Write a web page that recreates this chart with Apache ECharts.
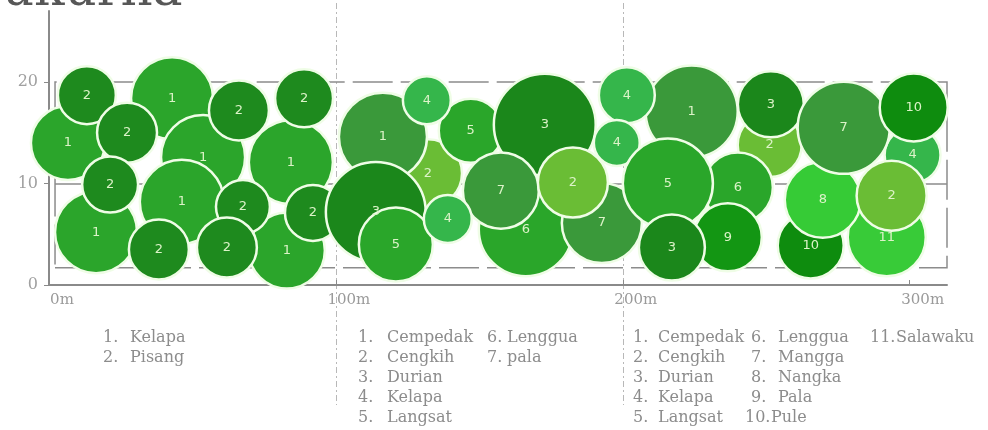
<!DOCTYPE html>
<html><head><meta charset="utf-8">
<script src="https://cdn.jsdelivr.net/npm/echarts@6/dist/echarts.min.js"></script>
<style>html,body{margin:0;padding:0;background:#fff}#c{width:988px;height:430px}</style>
</head><body><div id="c"></div>
<script>
// ---------- data ----------
const titleText = 'ukurna';
const xTicks = [0, 100, 200, 300];
const yTicks = [0, 10, 20];
const sectionMarks = [100, 200];

const seg1Species = ['Kelapa', 'Pisang'];
const seg1No    = [1, 1, 1, 1, 1, 1, 1, 2, 2, 2, 2, 2, 2, 2, 2, 2];
const seg1X     = [42.9, 6.6, 53.7, 84.3, 46.3, 16.4, 82.9, 13.2, 66.2, 88.9, 27.2, 21.3, 67.6, 92.0, 38.3, 62.0];
const seg1Y     = [18.4, 14.0, 12.6, 12.1, 8.2, 5.2, 3.4, 18.7, 17.2, 18.4, 15.0, 9.9, 7.7, 7.1, 3.5, 3.7];
const seg1Crown = [28.6, 25.8, 29.3, 29.3, 29.3, 28.6, 26.5, 20.2, 20.9, 20.2, 20.9, 19.5, 18.8, 19.5, 20.9, 20.9];

const seg2Species = ['Cempedak', 'Cengkih', 'Durian', 'Kelapa', 'Langsat', 'Lenggua', 'pala'];
const seg2No    = [2, 6, 1, 3, 5, 5, 4, 3, 7, 7, 4, 2];
const seg2X     = [132.1, 166.2, 116.4, 113.9, 120.9, 147.0, 131.7, 172.8, 157.5, 192.7, 139.0, 182.6];
const seg2Y     = [11.0, 5.5, 14.6, 7.2, 4.0, 15.2, 18.2, 15.8, 9.3, 6.1, 6.5, 10.1];
const seg2Crown = [23.7, 32.8, 30.7, 34.8, 25.8, 22.3, 16.7, 35.5, 26.5, 27.9, 16.7, 24.4];

const seg3Species = ['Cempedak', 'Cengkih', 'Durian', 'Kelapa', 'Langsat', 'Lenggua', 'Mangga', 'Nangka', 'Pala', 'Pule', 'Salawaku'];
const seg3No    = [2, 4, 1, 4, 4, 6, 5, 9, 3, 3, 10, 11, 8, 7, 10, 2];
const seg3X     = [251.2, 301.0, 224.0, 201.4, 197.9, 240.1, 215.7, 236.6, 217.1, 251.6, 265.5, 292.0, 269.7, 277.0, 301.4, 293.7];
const seg3Y     = [13.8, 12.8, 17.1, 18.7, 14.0, 9.6, 10.0, 4.7, 3.7, 17.8, 3.9, 4.7, 8.4, 15.5, 17.5, 8.8];
const seg3Crown = [22.3, 19.5, 32.1, 19.5, 16.0, 24.4, 31.4, 23.7, 23.0, 23.0, 23.0, 27.2, 26.5, 32.1, 23.7, 24.4];

// ---------- styles / layout ----------
const speciesColor = {
  Kelapa1: '#2ba52b', Pisang: '#1e8a1e',
  Cempedak: '#3a993a', Cengkih: '#6abd35', Durian: '#1b871b', Kelapa: '#35b64b',
  Langsat: '#2aa62a', Lenggua: '#2aa62a', pala: '#3a993a', Mangga: '#3a993a',
  Nangka: '#36cb36', Pala: '#139613', Pule: '#0e8c0e', Salawaku: '#38cb38'
};
const frame = { x0: 2.1, x1: 313, y0: 1.7, y1: 20, mid: 10 };
const legendLayout = [
  { species: seg1Species, cols: [{ num: 103, name: 130 }] },
  { species: seg2Species, cols: [{ num: 358, name: 387 }, { num: 487, name: 507 }] },
  { species: seg3Species, cols: [{ num: 633, name: 658 }, { num: 751, name: 778 }, { num: 876, name: 897 }] }
];
const legendRowY = [338, 358, 378, 398, 418];
const serif = 'DejaVu Serif';

const chart = echarts.init(document.getElementById('c'), null, { renderer: 'canvas' });

function colorFor(seg, species) {
  if (seg === 1 && species === 'Kelapa') return speciesColor.Kelapa1;
  return speciesColor[species];
}

function buildSeries(seg, species, nos, xs, ys, crowns, pxPerM) {
  return {
    type: 'scatter',
    name: 'seg' + seg,
    clip: false,
    silent: true,
    z: 3,
    data: xs.map((x, i) => ({
      value: [x, ys[i], crowns[i], nos[i]],
      itemStyle: { color: colorFor(seg, species[nos[i] - 1]) }
    })),
    symbol: 'circle',
    symbolSize: v => v[2] * pxPerM,
    itemStyle: { borderColor: '#effde6', borderWidth: 2.5, opacity: 1 },
    label: {
      show: true, position: 'inside',
      formatter: p => String(p.value[3]),
      color: '#dcf3c8', fontSize: 13, fontFamily: 'DejaVu Sans'
    },
    emphasis: { disabled: true }
  };
}

function makeOption(pxPerM) {
  const frameSeries = {
    type: 'line', name: 'frame', data: [], z: 1, silent: true,
    markArea: {
      silent: true, z: 1,
      itemStyle: { color: 'rgba(0,0,0,0)', borderColor: '#8c8c8c', borderWidth: 1.5, borderType: [40, 8] },
      data: [[{ coord: [frame.x0, frame.y0] }, { coord: [frame.x1, frame.y1] }]]
    },
    markLine: {
      silent: true, z: 1, symbol: 'none', label: { show: false },
      lineStyle: { color: '#8c8c8c', width: 1.5, type: [40, 8] },
      data: [[{ coord: [frame.x0, frame.mid] }, { coord: [frame.x1, frame.mid] }]]
    }
  };
  return {
    animation: false,
    backgroundColor: '#fff',
    title: {
      text: titleText, left: -3, top: -38,
      textStyle: { fontFamily: serif, fontSize: 50, fontWeight: 'normal', color: '#575757' }
    },
    grid: { left: 49, right: 41, top: 11, bottom: 145 },
    xAxis: {
      type: 'value', min: 0, max: 313,
      splitLine: { show: false },
      axisLine: { lineStyle: { color: '#8a8a8a', width: 2 } },
      axisTick: { show: true, inside: true, length: 5, customValues: xTicks, lineStyle: { color: '#8a8a8a' } },
      axisLabel: {
        customValues: xTicks, margin: 8,
        formatter: v => '{a|' + v + 'm}',
        rich: { a: { padding: [0, 0, 0, 26], fontFamily: serif, fontSize: 15, color: '#9a9a9a' } }
      }
    },
    yAxis: {
      type: 'value', min: 0, max: 27, offset: 4,
      splitLine: { show: false },
      axisLine: { show: true, lineStyle: { color: '#8a8a8a', width: 2 } },
      axisTick: { show: true, length: 5, customValues: yTicks, lineStyle: { color: '#8a8a8a' } },
      axisLabel: { customValues: yTicks, margin: 7, fontFamily: serif, fontSize: 16, color: '#a0a0a0' }
    },
    series: [
      frameSeries,
      buildSeries(1, seg1Species, seg1No, seg1X, seg1Y, seg1Crown, pxPerM),
      buildSeries(2, seg2Species, seg2No, seg2X, seg2Y, seg2Crown, pxPerM),
      buildSeries(3, seg3Species, seg3No, seg3X, seg3Y, seg3Crown, pxPerM)
    ]
  };
}

// first pass to learn the axis scale, then size crowns through it
chart.setOption(makeOption(3));
const pxPerM = (chart.convertToPixel({ xAxisIndex: 0 }, 100) - chart.convertToPixel({ xAxisIndex: 0 }, 0)) / 100;
const opt = makeOption(pxPerM);

const graphics = [];
sectionMarks.forEach(m => {
  const px = Math.round(chart.convertToPixel({ xAxisIndex: 0 }, m)) + 0.5;
  graphics.push({
    type: 'line', z: 0, silent: true,
    shape: { x1: px, y1: 3, x2: px, y2: 405 },
    style: { stroke: '#b8b8b8', lineWidth: 1, lineDash: [6, 3, 2, 3] }
  });
});
const legendFont = '16px "' + serif + '"';
legendLayout.forEach(block => {
  block.species.forEach((name, i) => {
    const col = block.cols[Math.floor(i / 5)];
    const row = i % 5;
    const no = i + 1;
    const numX = no >= 10 ? col.num - 6 : col.num;
    const nameX = no >= 10 ? numX + 26 : col.name;
    graphics.push({ type: 'text', z: 10, silent: true, style: { text: no + '.', x: numX, y: legendRowY[row], verticalAlign: 'middle', font: legendFont, fill: '#8c8c8c' } });
    graphics.push({ type: 'text', z: 10, silent: true, style: { text: name, x: nameX, y: legendRowY[row], verticalAlign: 'middle', font: legendFont, fill: '#8c8c8c' } });
  });
});
opt.graphic = graphics;
chart.setOption(opt, true);
</script>
</body></html>
